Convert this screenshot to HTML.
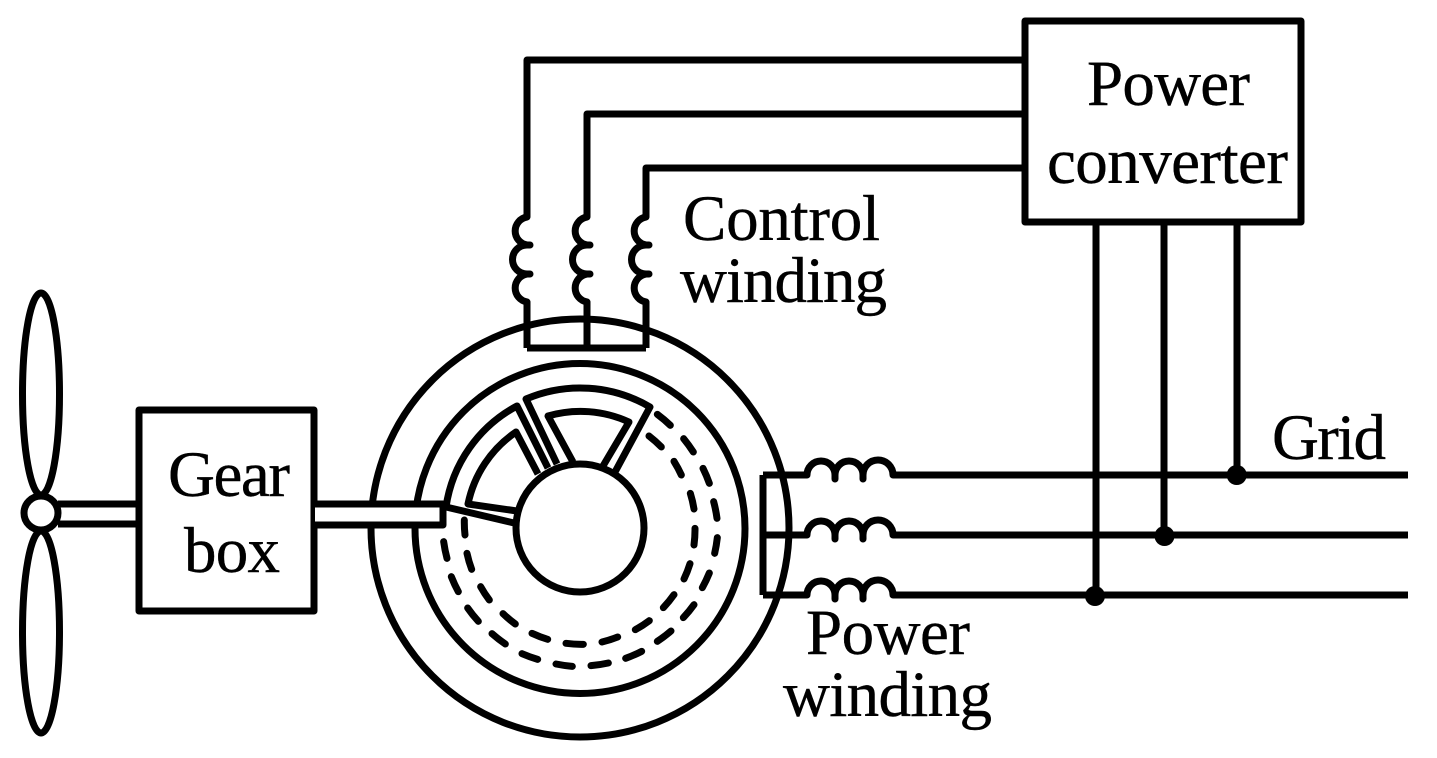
<!DOCTYPE html>
<html><head><meta charset="utf-8"><style>
html,body{margin:0;padding:0;background:#fff}
svg{display:block}
text{font-family:"Liberation Serif",serif;font-size:65px;fill:#000;stroke:#000;stroke-width:.4px}
</style></head><body>
<svg width="1437" height="758" viewBox="0 0 1437 758" xmlns="http://www.w3.org/2000/svg">
<rect width="1437" height="758" fill="#fff"/>
<g fill="none" stroke="#000" stroke-width="7" stroke-linejoin="round">
<ellipse cx="41" cy="394" rx="18.500" ry="101"/>
<ellipse cx="41" cy="632" rx="18.500" ry="101"/>
<circle cx="41" cy="513" r="17" fill="#fff"/>
<path d="M58 504H139M58 524H139"/>
<rect x="139" y="410" width="175" height="201" fill="#fff"/>
<circle cx="580" cy="528" r="209"/>
<circle cx="580" cy="528.500" r="165"/>
<path d="M557 464L526 399A138 138 0 0 1 650 407L615 472"/>
<path d="M573 462L548 416A116 116 0 0 1 629 422L603 466"/>
<path d="M548 468L517 406A137 137 0 0 0 446 507L514 523"/>
<path d="M538 474L516 432A115 115 0 0 0 468 504L517 511"/>
<circle cx="580" cy="528" r="64" fill="#fff"/>
<rect x="315" y="504" width="128" height="21" fill="#fff" stroke="none"/>
<path d="M314 504H443V525H314"/>
<g transform="translate(360 310) scale(.33333)" stroke-width="21" stroke-linecap="round">
<path d="M251 695A408 408 0 0 0 261 745M274 800A408 408 0 0 0 295 845M323 894A408 408 0 0 0 355 934M396 971A408 408 0 0 0 436 1002M486 1031A408 408 0 0 0 533 1048M588 1062A408 408 0 0 0 637 1069M693 1067A408 408 0 0 0 745 1059M797 1045A408 408 0 0 0 845 1024M892 994A408 408 0 0 0 933 963M970 923A408 408 0 0 0 1002 884M1027 833A408 408 0 0 0 1048 789M1064 730A408 408 0 0 0 1072 683M1071 625A408 408 0 0 0 1061 575M1048 520A408 408 0 0 0 1029 475M1000 426A408 408 0 0 0 971 386M931 346A408 408 0 0 0 892 313"/>
<path d="M313 630A342 342 0 0 0 315 675M321 730A342 342 0 0 0 335 778M362 830A342 342 0 0 0 388 870M429 911A342 342 0 0 0 466 942M516 970A342 342 0 0 0 563 988M618 1000A342 342 0 0 0 670 1003M726 996A342 342 0 0 0 773 981M826 959A342 342 0 0 0 868 932M910 893A342 342 0 0 0 942 854M972 807A342 342 0 0 0 990 761M1002 705A342 342 0 0 0 1005 655M1002 597A342 342 0 0 0 991 550M964 495A342 342 0 0 0 942 454M904 411A342 342 0 0 0 867 378"/>
</g>
<path d="M1025 60H527V217A14.200 14.200 0 0 0 527 245H530H527A14.200 14.200 0 0 0 527 274H530H527A14.200 14.200 0 0 0 527 302V348"/>
<path d="M1025 114H587V217A14.200 14.200 0 0 0 587 245H590H587A14.200 14.200 0 0 0 587 274H590H587A14.200 14.200 0 0 0 587 302V348"/>
<path d="M1025 168H646V217A14.200 14.200 0 0 0 646 245H649H646A14.200 14.200 0 0 0 646 274H649H646A14.200 14.200 0 0 0 646 302V348"/>
<path d="M527 348H646"/>
<rect x="1025" y="21" width="276" height="201" fill="#fff"/>
<path d="M1096 222V596M1164 222V535M1237 222V475"/>
<path d="M763 475V595"/>
<path d="M763 475H807A14 14 0 0 1 835 475V479V475A14 14 0 0 1 863 475V479V475A15 15 0 0 1 893 475H1408"/>
<path d="M763 535H807A14 14 0 0 1 835 535V539V535A14 14 0 0 1 863 535V539V535A15 15 0 0 1 893 535H1408"/>
<path d="M763 595H807A14 14 0 0 1 835 595V599V595A14 14 0 0 1 863 595V599V595A15 15 0 0 1 893 595H1408"/>
</g>
<circle cx="1095" cy="596" r="10"/>
<circle cx="1164.500" cy="536" r="10"/>
<circle cx="1236.700" cy="475" r="10"/>
<text x="1087" y="105" textLength="163" lengthAdjust="spacing">Power</text>
<text x="1047" y="183" textLength="241" lengthAdjust="spacing">converter</text>
<text x="683" y="240" textLength="197" lengthAdjust="spacing">Control</text>
<text x="680" y="302" textLength="207" lengthAdjust="spacing">winding</text>
<text x="168" y="496" textLength="122" lengthAdjust="spacing">Gear</text>
<text x="184" y="572" textLength="96" lengthAdjust="spacing">box</text>
<text x="1272" y="459" textLength="114" lengthAdjust="spacing">Grid</text>
<text x="806" y="654" textLength="164" lengthAdjust="spacing">Power</text>
<text x="783" y="716" textLength="209" lengthAdjust="spacing">winding</text>
</svg>
</body></html>
